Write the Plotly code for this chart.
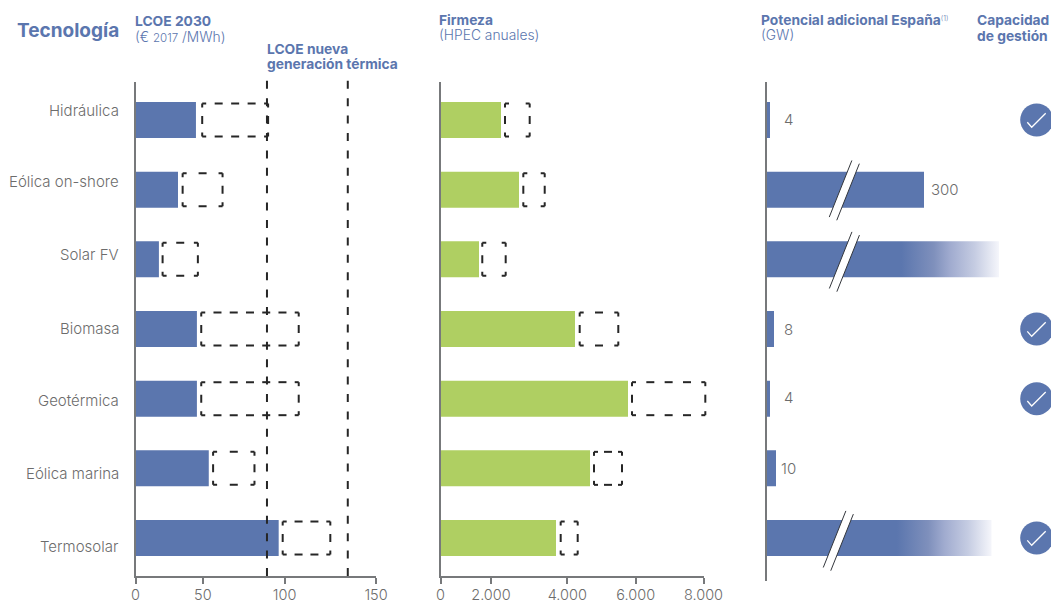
import plotly.graph_objects as go

# ---------- data ----------
categories = ["Hidráulica", "Eólica on-shore", "Solar FV", "Biomasa", "Geotérmica", "Eólica marina", "Termosolar"]
rows = list(range(len(categories)))

lcoe_value = [37.7, 26.5, 14.6, 38.3, 38.3, 45.7, 89.3]
lcoe_low = [41.6, 29.4, 16.9, 41.0, 41.0, 48.4, 91.8]
lcoe_high = [82.7, 54.3, 38.9, 101.8, 101.8, 74.2, 121.5]
lcoe_refs = [82.0, 132.4]
lcoe_tick_pos = [0, 42, 93, 150]
lcoe_tick_text = ["0", "50", "100", "150"]

firm_value = [1840, 2388, 1171, 4091, 5703, 4548, 3513]
firm_low = [1962, 2519, 1271, 4234, 5825, 4669, 3656]
firm_high = [2713, 3170, 1983, 5408, 8055, 5521, 4173]
firm_tick_pos = [0, 1536, 3857, 5938, 8000]
firm_tick_text = ["0", "2.000", "4.000", "6.000", "8.000"]

pot_plain_rows = [0, 1, 3, 4, 5]
pot_plain_len = [3.5, 157.5, 7.5, 3.5, 9.5]
pot_fade_rows = [2, 6]
pot_fade_len = [232.5, 225.0]
pot_labels = ["4", "300", "8", "4", "10"]
pot_label_x = [21.5, 178.5, 21.5, 22, 21.5]
pot_label_y = [120, 189, 329, 397, 468]
break_rows = [1.01, 2.035, 6.04]
break_pos = [77.8, 77.9, 71.8]
check_rows = [0, 3, 4, 6]
check_x = 270.2

# ---------- style ----------
W, H = 1051, 603
BLUE = "#5b76ae"
GREEN = "#afcf62"
DARK = "#262626"
AXIS = "#77797b"
TXT = "#6c6c6c"
FONT = "Inter, 'Noto Sans', sans-serif"
ROW_PX = 69.67
DASH = "8px,9.4px"
BAR_W = 36 / ROW_PX
BOX_H = 16.5 / ROW_PX
Y_TOP, Y_BOT = 82, 576
LCOE_PX = (376 - 135.5) / 150
FIRM_PX = (703.5 - 440.5) / 8000
row_at = lambda p: (p - 120) / ROW_PX
px = lambda v: v / W
py = lambda v: 1 - v / H

fig = go.Figure()


def bars(x, y, color, xa, ya, width=BAR_W):
    fig.add_trace(go.Bar(x=x, y=y, orientation="h", width=width, marker=dict(color=color, line=dict(width=0)),
                         xaxis=xa, yaxis=ya, showlegend=False))


def side(a, b, px_per_unit, period=17.0, dash=8.0):
    """Fractions of one box side covered by dashes, with half a dash at each corner."""
    length = abs(b - a) * px_per_unit
    n = max(1, round(length / period))
    d = dash / length
    out = [(0.0, d / 2)]
    for k in range(1, n):
        out.append((k / n - d / 2, k / n + d / 2))
    out.append((1 - d / 2, 1.0))
    return out


def boxes(low, high, xa, ya, x_px):
    xs, ys = [], []
    for r, a, b in zip(rows, low, high):
        top, bot = r - BOX_H, r + BOX_H
        for y in (top, bot):
            for f0, f1 in side(a, b, x_px):
                xs += [a + (b - a) * f0, a + (b - a) * f1, None]
                ys += [y, y, None]
        for x in (a, b):
            for f0, f1 in side(top, bot, ROW_PX):
                xs += [x, x, None]
                ys += [top + (bot - top) * f0, top + (bot - top) * f1, None]
    fig.add_trace(go.Scatter(x=xs, y=ys, mode="lines", line=dict(color=DARK, width=2),
                             xaxis=xa, yaxis=ya, showlegend=False, cliponaxis=False))


# LCOE column
bars(lcoe_value, rows, BLUE, "x", "y")
boxes(lcoe_low, lcoe_high, "x", "y", LCOE_PX)
# Firmeza column
bars(firm_value, rows, GREEN, "x2", "y2")
boxes(firm_low, firm_high, "x4", "y2", FIRM_PX)
# Potencial column
bars(pot_plain_len, pot_plain_rows, BLUE, "x3", "y3")
fade = [[0, BLUE], [0.58, BLUE], [0.72, "#7f90bc"], [0.79, "#a0abcf"], [0.895, "#c5cce2"], [1, "#f5f6fb"]]
for r, ln in zip(pot_fade_rows, pot_fade_len):
    h = BAR_W / 2
    fig.add_trace(go.Scatter(x=[0, ln, ln, 0, 0], y=[r - h, r - h, r + h, r + h, r - h], mode="lines",
                             line=dict(width=0), fill="toself",
                             fillgradient=dict(type="horizontal", colorscale=fade),
                             xaxis="x3", yaxis="y3", showlegend=False))
# axis breaks
SL_DX, SL_DY = 11.3, 28.3 / ROW_PX
GX, GY = 3.75, 1.6 / ROW_PX
for r, p in zip(break_rows, break_pos):
    fig.add_trace(go.Scatter(
        x=[p - GX - SL_DX, p - GX + SL_DX, p + GX + SL_DX, p + GX - SL_DX, p - GX - SL_DX],
        y=[r - GY + SL_DY, r - GY - SL_DY, r + GY - SL_DY, r + GY + SL_DY, r - GY + SL_DY],
        mode="lines", line=dict(width=0), fill="toself", fillcolor="white",
        xaxis="x3", yaxis="y3", showlegend=False, cliponaxis=False))
    fig.add_trace(go.Scatter(
        x=[p - GX - SL_DX, p - GX + SL_DX, None, p + GX - SL_DX, p + GX + SL_DX],
        y=[r - GY + SL_DY, r - GY - SL_DY, None, r + GY + SL_DY, r + GY - SL_DY],
        mode="lines", line=dict(width=1, color="#33363c"),
        xaxis="x3", yaxis="y3", showlegend=False, cliponaxis=False))
# management checks
fig.add_trace(go.Scatter(x=[check_x] * len(check_rows), y=check_rows, mode="markers",
                         marker=dict(size=33, color=BLUE, line=dict(width=0)),
                         xaxis="x3", yaxis="y3", showlegend=False, cliponaxis=False))
cx, cy = [], []
for r in check_rows:
    cx += [check_x - 9.4, check_x - 5, check_x + 9, None]
    cy += [r + 2.3 / ROW_PX, r + 7.3 / ROW_PX, r - 6.7 / ROW_PX, None]
fig.add_trace(go.Scatter(x=cx, y=cy, mode="lines", line=dict(color="white", width=1.3),
                         xaxis="x3", yaxis="y3", showlegend=False, cliponaxis=False))


def xaxis(domain, rng, tickvals=None, ticktext=None, visible=True):
    d = dict(domain=domain, range=rng, showgrid=False, zeroline=False, fixedrange=True)
    if visible:
        d.update(showline=True, linecolor=AXIS, linewidth=1.5, ticks="outside", ticklen=6, tickwidth=1.5, tickcolor=AXIS,
                 tickvals=tickvals, ticktext=ticktext, ticklabelstandoff=-1,
                 tickfont=dict(family=FONT, size=14.5, color=TXT, weight=300))
    else:
        d.update(visible=False)
    return d


def yaxis(domain, rng, anchor):
    return dict(domain=domain, range=rng, anchor=anchor, showgrid=False, zeroline=False, showticklabels=False, ticks="",
                showline=True, linecolor=AXIS, linewidth=1.5, fixedrange=True)


ydom = [py(Y_BOT), py(Y_TOP)]
yrng = [row_at(Y_BOT), row_at(Y_TOP)]

shapes = [dict(type="line", xref="x", yref="paper", x0=v, x1=v, y0=py(Y_BOT), y1=py(76),
               line=dict(color=DARK, width=2, dash=DASH)) for v in lcoe_refs]

annotations = []
PAD = {"left": -2.5, "right": 2.5, "center": 0}


def note(text, x, y, anchor="left", size=13.8, color=BLUE, weight=400):
    annotations.append(dict(text=text, x=px(x + PAD[anchor]), y=py(y), xref="paper", yref="paper", showarrow=False,
                            xanchor=anchor, yanchor="middle", align=anchor,
                            font=dict(family=FONT, size=size, color=color, weight=weight)))


note("Tecnología", 118, 31, "right", 19, BLUE, 700)
note("LCOE 2030", 135, 21, weight=700)
note("(€ <span style='font-size:11.5px'>2017</span> /MWh)", 135, 37, weight=300)
note("LCOE nueva", 267, 49, weight=700)
note("generación térmica", 267, 64, weight=700)
note("Firmeza", 440, 20, weight=700)
note("(HPEC anuales)", 440, 35, weight=300)
note("Potencial adicional España<span style='font-size:10px;font-weight:300'><sup>(1)</sup></span>", 761, 20, weight=700)
note("(GW)", 761, 35, weight=300)
note("Capacidad", 977, 20, weight=700)
note("de gestión", 977, 36, weight=700)
label_y = [110, 182, 255, 328, 400, 473, 546]
for c, y in zip(categories, label_y):
    note(c, 118, y, "right", 15, TXT, 300)
for t, x, y in zip(pot_labels, pot_label_x, pot_label_y):
    note(t, 766.5 + x, y, "center", 15, TXT, 300)

fig.update_layout(
    width=W, height=H, margin=dict(l=0, r=0, t=0, b=0, autoexpand=False), autosize=False,
    paper_bgcolor="white", plot_bgcolor="rgba(0,0,0,0)", showlegend=False, barmode="overlay",
    xaxis=xaxis([px(135.5), px(376)], [0, 150], lcoe_tick_pos, lcoe_tick_text) | {"anchor": "y"},
    xaxis2=xaxis([px(440.5), px(703.5)], [0, 8000], firm_tick_pos, firm_tick_text) | {"anchor": "y2"},
    xaxis3=xaxis([px(766.5), 1.0], [0, 284.5], visible=False) | {"anchor": "y3"},
    xaxis4=xaxis([px(440.5), px(730)], [0, (730 - 440.5) / FIRM_PX], visible=False) | {"anchor": "y2"},
    yaxis=yaxis(ydom, yrng, "x"),
    yaxis2=yaxis(ydom, yrng, "x2"),
    yaxis3=yaxis([py(581), py(Y_TOP)], [row_at(581), row_at(Y_TOP)], "x3"),
    shapes=shapes, annotations=annotations,
)

fig.write_html("out.html", config={"displayModeBar": False},
               post_script="document.body.style.margin='0';document.body.style.overflow='hidden';")
